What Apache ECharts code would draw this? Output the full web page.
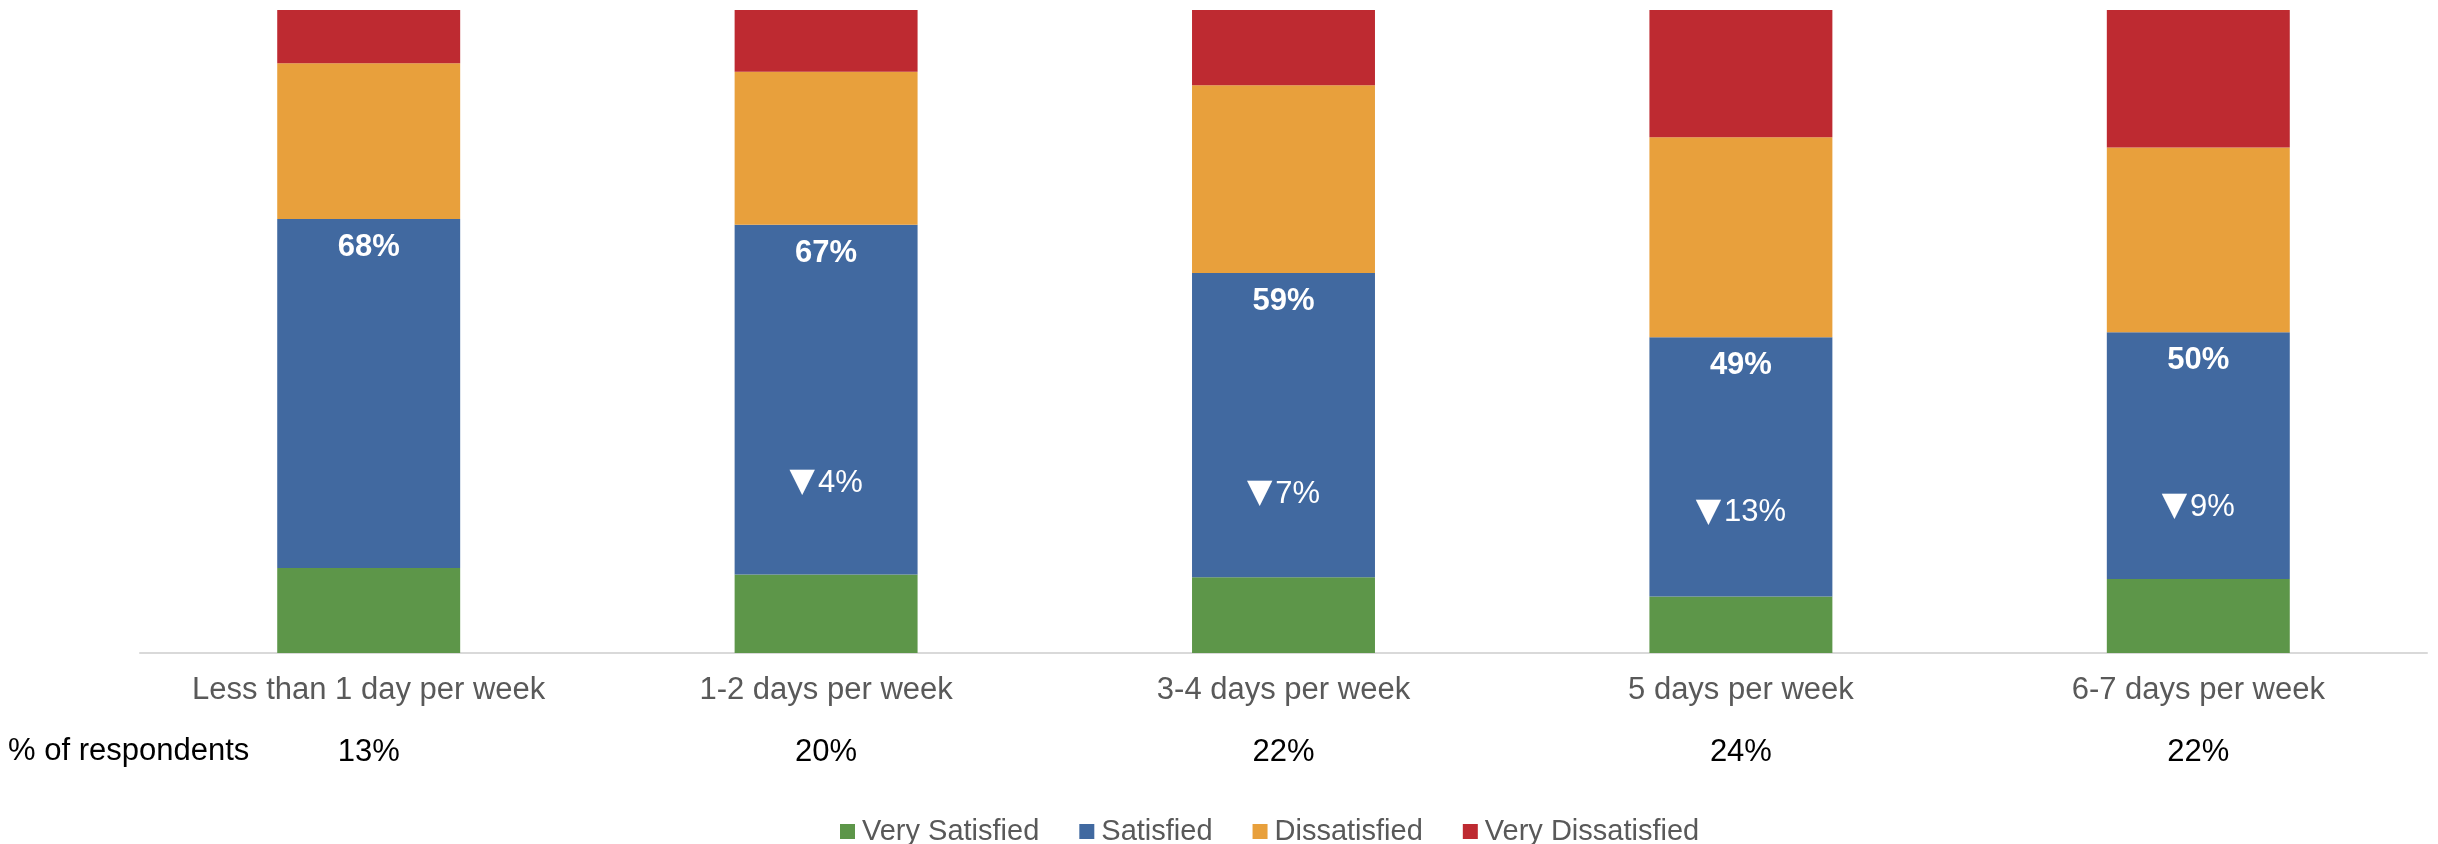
<!DOCTYPE html>
<html>
<head>
<meta charset="utf-8">
<script src="https://cdn.jsdelivr.net/npm/echarts@6/dist/echarts.min.js"></script>
<style>
  body { margin: 0; background: #fff; }
  #echar { width: 2438px; height: 844px; }
</style>
</head>
<body>
<div id="echar"></div>
<script>
var categories = ["Less than 1 day per week", "1-2 days per week", "3-4 days per week", "5 days per week", "6-7 days per week"];
var respondents = ["13%", "20%", "22%", "24%", "22%"];

var verySatisfied = [13.2, 12.2, 11.8, 8.8, 11.5];
var satisfied = [54.3, 54.4, 47.3, 40.3, 38.4];
var dissatisfied = [24.2, 23.8, 29.2, 31.1, 28.7];
var veryDissatisfied = [8.3, 9.6, 11.7, 19.8, 21.4];

// combined "satisfied" share shown at top of blue segment
var topLabels = ["68%", "67%", "59%", "49%", "50%"];
// change vs baseline, and where the note sits (in % of bar height)
var changeLabels = ["", "4%", "7%", "13%", "9%"];
var changeLabelPos = ["-", 26.4, 24.7, 21.8, 22.7];

var font = "Arial, 'Liberation Sans', sans-serif";
var mychart = echarts.init(document.getElementById("echar"));

var option = {
  animation: false,
  textStyle: { fontFamily: font },
  grid: { left: 140, right: 11, top: 10, bottom: 191 },
  legend: {
    left: 835,
    top: 812,
    itemWidth: 15,
    itemHeight: 15,
    itemGap: 40,
    icon: "rect",
    textStyle: { color: "#595959", fontSize: 29, fontFamily: font, padding: [0, 0, 0, 2] },
    data: ["Very Satisfied", "Satisfied", "Dissatisfied", "Very Dissatisfied"]
  },
  graphic: [
    {
      type: "text",
      left: 8,
      top: 736,
      style: { text: "% of respondents", fill: "#000", font: "31px " + font }
    }
  ],
  xAxis: [
    {
      type: "category",
      data: categories,
      axisLine: { lineStyle: { color: "#d9d9d9", width: 2 } },
      axisTick: { show: false },
      axisLabel: { color: "#595959", fontSize: 31, margin: 22, interval: 0 }
    },
    {
      type: "category",
      data: categories,
      position: "bottom",
      offset: 62,
      axisLine: { show: false },
      axisTick: { show: false },
      axisLabel: {
        color: "#000",
        fontSize: 31,
        margin: 22,
        interval: 0,
        formatter: function (v, i) { return respondents[i]; }
      }
    }
  ],
  yAxis: { type: "value", min: 0, max: 100, show: false },
  series: [
    {
      name: "Very Satisfied",
      type: "bar",
      stack: "total",
      barWidth: "40%",
      itemStyle: { color: "#5D9649" },
      data: verySatisfied
    },
    {
      name: "Satisfied",
      type: "bar",
      stack: "total",
      itemStyle: { color: "#4169A0" },
      label: {
        show: true,
        position: "insideTop",
        distance: 13,
        color: "#fff",
        fontWeight: "bold",
        fontSize: 31,
        formatter: function (p) { return topLabels[p.dataIndex]; }
      },
      data: satisfied
    },
    {
      name: "Dissatisfied",
      type: "bar",
      stack: "total",
      itemStyle: { color: "#E8A03C" },
      data: dissatisfied
    },
    {
      name: "Very Dissatisfied",
      type: "bar",
      stack: "total",
      itemStyle: { color: "#BE2A31" },
      data: veryDissatisfied
    },
    {
      name: "change",
      type: "scatter",
      silent: true,
      symbolSize: 1,
      itemStyle: { color: "rgba(0,0,0,0)", opacity: 1 },
      label: {
        show: true,
        position: "inside",
        color: "#fff",
        fontSize: 31,
        textBorderWidth: 0,
        formatter: function (p) {
          return changeLabels[p.dataIndex] ? "{t|\u25BC}{v|" + changeLabels[p.dataIndex] + "}" : "";
        },
        rich: {
          t: { color: "#fff", fontSize: 33, fontFamily: "'DejaVu Sans'", textBorderWidth: 0, padding: [0, 3, 1, 0] },
          v: { color: "#fff", fontSize: 31, textBorderWidth: 0 }
        }
      },
      data: changeLabelPos
    }
  ]
};
mychart.setOption(option);
</script>
</body>
</html>
